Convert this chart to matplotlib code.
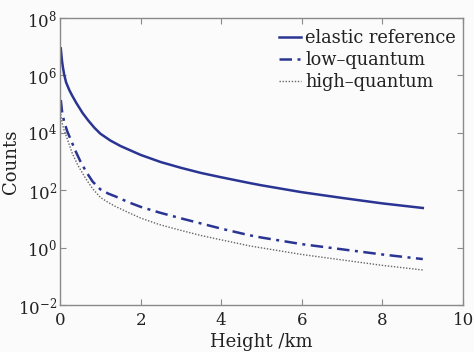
import matplotlib
matplotlib.use("Agg")
import matplotlib.pyplot as plt
import numpy as np
from matplotlib.ticker import NullLocator, FixedLocator

plt.rcParams['font.family'] = ['DejaVu Serif']
plt.rcParams['mathtext.fontset'] = 'dejavuserif'

# Data (height in km, log10 of counts)
elastic_x = [0.02, 0.03, 0.05, 0.07, 0.1, 0.15, 0.23, 0.3, 0.4, 0.56, 0.7, 0.85, 1.0, 1.25, 1.5,
             2.0, 2.5, 3.0, 3.5, 4.0, 4.7, 5.0, 6.0, 7.0, 8.0, 9.0]
elastic_log = [6.94, 6.78, 6.50, 6.30, 6.05, 5.76, 5.49, 5.30, 5.05, 4.69, 4.43, 4.18, 3.97, 3.73, 3.54,
               3.23, 2.98, 2.78, 2.60, 2.45, 2.25, 2.17, 1.93, 1.73, 1.54, 1.38]

low_x = [0.02, 0.05, 0.1, 0.18, 0.27, 0.38, 0.5, 0.65, 0.81, 1.0, 1.2, 1.38, 1.7, 2.0, 2.47,
         3.0, 3.5, 4.0, 4.7, 5.0, 6.0, 7.0, 8.0, 9.0]
low_log = [5.14, 4.75, 4.40, 4.05, 3.75, 3.38, 3.02, 2.64, 2.30, 2.03, 1.88, 1.78, 1.58, 1.42, 1.22,
           1.02, 0.84, 0.66, 0.43, 0.35, 0.12, -0.06, -0.24, -0.40]

high_x = [0.02, 0.05, 0.1, 0.19, 0.3, 0.45, 0.64, 0.81, 1.0, 1.2, 1.38, 1.7, 2.0, 2.47,
          3.0, 3.5, 4.0, 4.7, 5.0, 6.0, 7.0, 8.0, 9.0]
high_log = [4.65, 4.35, 4.10, 3.75, 3.30, 2.85, 2.40, 2.05, 1.75, 1.57, 1.43, 1.22, 1.03, 0.80,
            0.60, 0.42, 0.27, 0.06, -0.01, -0.24, -0.43, -0.62, -0.78]

labels = ['elastic reference', 'low\u2013quantum', 'high\u2013quantum']
xticks = [0, 2, 4, 6, 8, 10]
yticks = [1e-2, 1e0, 1e2, 1e4, 1e6, 1e8]

fig = plt.figure(figsize=(4.74, 3.52), dpi=100, facecolor='#fbfbfb')
ax = fig.add_axes([0.1266, 0.1335, 0.8504, 0.8154])
ax.set_facecolor('#fbfbfb')

navy = '#2a3593'
ax.semilogy(elastic_x, 10.0 ** np.array(elastic_log), color=navy, lw=1.8, ls='-', label=labels[0])
ax.semilogy(low_x, 10.0 ** np.array(low_log), color=navy, lw=1.8, ls=(0, (5, 2.2, 1.2, 2.2)), label=labels[1])
ax.semilogy(high_x, 10.0 ** np.array(high_log), color='#666666', lw=1.0, ls=(0, (1, 1.2)), label=labels[2])

ax.set_xlim(0, 10)
ax.set_ylim(1e-2, 1e8)
ax.xaxis.set_major_locator(FixedLocator(xticks))
ax.yaxis.set_major_locator(FixedLocator(yticks))
ax.yaxis.set_minor_locator(NullLocator())

for s in ax.spines.values():
    s.set_color('#8a8a8a')
    s.set_linewidth(1.0)
ax.tick_params(which='both', direction='in', top=True, right=True, length=4,
               color='#8a8a8a', labelsize=12, labelcolor='#222222')
ax.tick_params(axis='x', pad=5)
ax.tick_params(axis='y', pad=2)

ax.set_xlabel('Height /km', fontsize=13, color='#222222')
ax.set_ylabel('Counts', fontsize=13, color='#222222')
ax.xaxis.set_label_coords(0.5, -0.098)
ax.yaxis.set_label_coords(-0.1, 0.5)

leg = ax.legend(loc='upper right', bbox_to_anchor=(1.0, 0.985), frameon=False, fontsize=12.8,
                handlelength=1.2, handletextpad=0.25, labelspacing=0.22, borderaxespad=0.2,
                borderpad=0.2)
for t in leg.get_texts():
    t.set_color('#222222')

fig.savefig('out.png', dpi=100, facecolor=fig.get_facecolor())
